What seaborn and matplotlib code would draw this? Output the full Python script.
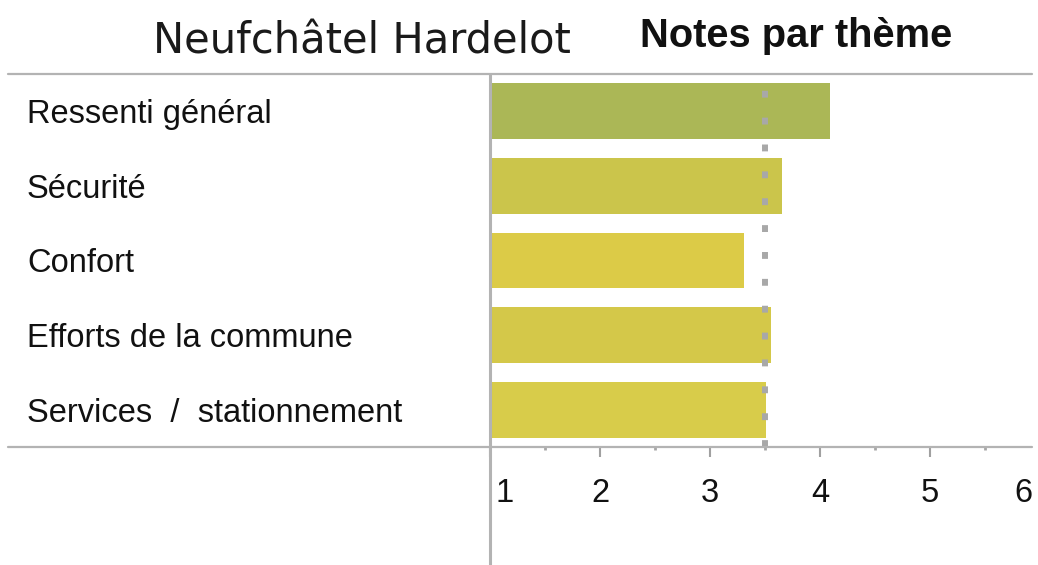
import matplotlib
matplotlib.use("Agg")
import matplotlib.pyplot as plt
import matplotlib.lines as mlines
import matplotlib.transforms as mtrans
import numpy as np
import pandas as pd
import seaborn as sns

# data
themes = ["Ressenti général", "Sécurité", "Confort",
          "Efforts de la commune", "Services  /  stationnement"]
notes = [4.09, 3.65, 3.31, 3.55, 3.51]
bar_colors = ["#abb756", "#cbc54b", "#dccb47", "#d4c849", "#d8cc4a"]
moyenne = 3.5
tick_values = [1, 2, 3, 4, 5, 6]
tick_labels = ["1", "2", "3", "4", "5", "6"]
minor_values = [1.5, 2.5, 3.5, 4.5, 5.5]

sns.set_theme(style="white")
plt.rcParams["font.family"] = ["Liberation Sans", "DejaVu Sans"]

W, H = 1038, 565
fig = plt.figure(figsize=(W / 100, H / 100), dpi=100)
ax = fig.add_axes([490 / W, (H - 447) / H, 550 / W, 373 / H])

df = pd.DataFrame({"theme": themes, "note": notes})
sns.barplot(data=df, y="theme", x="note", hue="theme", palette=bar_colors,
            orient="h", width=0.75, legend=False, ax=ax, saturation=1,
            linewidth=0)

# average line, big square dots
ax.axvline(moyenne, color="#a8a8a8", lw=4.3, dashes=(1.15, 3.35), zorder=3)

ax.set_xlim(1, 6)
ax.set_ylim(4.5, -0.5)
for s in ax.spines.values():
    s.set_visible(False)
ax.set_xlabel("")
ax.set_ylabel("")

# x ticks
ax.set_xticks(tick_values)
ax.set_xticklabels(tick_labels, fontsize=23.5, color="#111111")
ax.set_xticks(minor_values, minor=True)
ax.tick_params(axis="x", which="major", bottom=True, length=7.5, width=1.5,
               color="#a0a0a0", direction="out", pad=15)
ax.tick_params(axis="x", which="minor", bottom=True, length=2.5, width=2,
               color="#a6a6a6", direction="out")
xl = ax.get_xticklabels()
xl[0].set_ha("left")
xl[0].set_transform(xl[0].get_transform() + mtrans.ScaledTranslation(6 / 100, 0, fig.dpi_scale_trans))
xl[-1].set_ha("right")
xl[-1].set_transform(xl[-1].get_transform() + mtrans.ScaledTranslation(-8 / 100, 0, fig.dpi_scale_trans))

# y labels on the far left
ax.tick_params(axis="y", length=0, pad=463 * 72 / 100, labelsize=23.5, labelcolor="#111111")
for lbl in ax.get_yticklabels():
    lbl.set_ha("left")

# frame lines
line_col = "#b3b3b3"
fig.add_artist(mlines.Line2D([8 / W, 1032 / W], [(H - 74) / H] * 2, color=line_col, lw=1.6))
fig.add_artist(mlines.Line2D([8 / W, 1032 / W], [(H - 447) / H] * 2, color=line_col, lw=1.6))
fig.add_artist(mlines.Line2D([490 / W] * 2, [0, (H - 74) / H], color=line_col, lw=2.2))

# titles
fig.text(362 / W, (H - 41) / H, "Neufchâtel Hardelot", family="DejaVu Sans",
         fontsize=30, color="#1a1a1a", ha="center", va="center")
fig.text(796 / W, (H - 36) / H, "Notes par thème", fontsize=28.7,
         fontweight="bold", color="#111111", ha="center", va="center")

fig.savefig("out.png", dpi=100)
